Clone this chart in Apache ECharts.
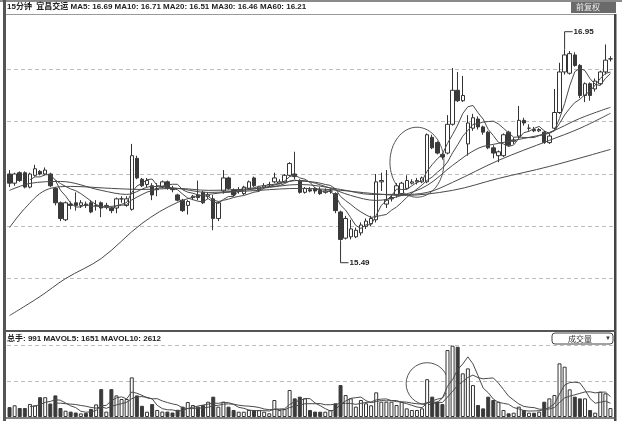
<!DOCTYPE html>
<html><head><meta charset="utf-8">
<style>html,body{margin:0;padding:0;background:#fff}#c{width:622px;height:421px}</style>
<script src="https://cdn.jsdelivr.net/npm/echarts@6.0.0/dist/echarts.min.js"></script>
</head><body><div id="c"></div>
<script>
// ---- data ----
const opens  = [16.00,15.93,16.01,16.01,15.90,15.99,16.02,16.00,16.00,15.89,15.78,15.65,15.77,15.78,15.76,15.77,15.78,15.76,15.78,15.75,
15.74,15.74,15.81,15.76,15.73,16.12,15.96,15.92,15.91,15.88,15.90,15.94,15.89,15.84,15.80,15.76,15.82,15.84,15.86,15.83,
15.81,15.66,15.87,15.97,15.88,15.87,15.85,15.89,15.97,15.88,15.90,15.92,15.94,15.93,15.94,15.99,16.00,15.95,15.86,15.88,
15.89,15.88,15.86,15.87,15.85,15.71,15.51,15.52,15.52,15.55,15.60,15.62,15.65,15.94,15.77,15.81,15.84,15.85,15.89,15.93,
15.94,15.94,15.94,16.28,16.24,16.15,16.16,16.38,16.64,16.56,16.23,16.35,16.42,16.36,16.32,16.20,16.14,16.14,16.32,16.25,
16.29,16.41,16.35,16.34,16.33,16.32,16.24,16.35,16.47,16.78,16.77,16.91,16.83,16.60,16.69,16.65,16.69,16.78,16.88];
const closes = [15.93,16.00,15.95,15.90,16.00,16.04,16.00,16.03,15.91,15.78,15.66,15.78,15.76,15.76,15.78,15.76,15.71,15.76,15.74,15.76,
15.72,15.81,15.81,15.81,16.14,15.97,15.91,15.95,15.84,15.89,15.94,15.89,15.88,15.80,15.72,15.79,15.83,15.82,15.78,15.84,
15.66,15.78,15.97,15.89,15.84,15.88,15.90,15.94,15.91,15.90,15.91,15.92,15.97,15.94,15.99,16.08,15.98,15.86,15.89,15.87,
15.87,15.85,15.87,15.87,15.72,15.50,15.66,15.58,15.57,15.61,15.64,15.66,15.94,15.95,15.80,15.82,15.91,15.93,15.95,15.94,
15.95,15.97,16.30,16.20,16.16,16.13,16.38,16.64,16.56,16.60,16.39,16.43,16.36,16.32,16.20,16.16,16.17,16.30,16.22,16.26,
16.41,16.39,16.35,16.33,16.34,16.24,16.29,16.47,16.78,16.91,16.92,16.83,16.60,16.69,16.60,16.71,16.78,16.87,16.88];
const lows   = [15.90,15.91,15.94,15.89,15.89,15.98,15.99,15.99,15.90,15.76,15.64,15.64,15.73,15.72,15.74,15.74,15.70,15.72,15.67,15.73,
15.70,15.70,15.78,15.75,15.72,15.96,15.90,15.90,15.80,15.83,15.89,15.88,15.86,15.79,15.71,15.69,15.80,15.80,15.77,15.81,
15.57,15.64,15.85,15.88,15.83,15.85,15.84,15.88,15.90,15.87,15.89,15.90,15.93,15.92,15.93,15.98,15.96,15.85,15.85,15.86,
15.85,15.84,15.85,15.85,15.70,15.49,15.50,15.50,15.51,15.53,15.58,15.60,15.63,15.87,15.74,15.79,15.82,15.84,15.88,15.92,
15.92,15.93,15.93,16.19,16.15,16.11,16.15,16.37,16.55,16.55,16.14,16.33,16.34,16.30,16.19,16.12,16.09,16.13,16.21,16.23,
16.27,16.37,16.33,16.32,16.32,16.23,16.23,16.34,16.46,16.76,16.76,16.82,16.58,16.55,16.56,16.63,16.68,16.76,16.86];
const highs  = [16.03,16.01,16.02,16.02,16.01,16.07,16.03,16.05,16.01,15.90,15.79,15.79,15.79,15.86,15.80,15.79,15.80,15.80,15.79,15.78,
15.75,15.82,15.83,15.83,16.23,16.14,15.97,15.97,15.93,15.93,15.95,15.95,15.91,15.85,15.81,15.80,15.84,15.95,15.87,15.86,
15.84,15.79,16.03,15.98,15.89,15.90,15.91,15.95,15.98,15.91,15.93,15.94,16.01,15.96,16.00,16.09,16.17,15.96,15.90,15.90,
15.90,15.90,15.89,15.89,15.86,15.72,15.68,15.65,15.59,15.63,15.66,15.68,16.00,16.01,16.03,15.84,15.93,15.94,15.99,15.96,
15.97,15.98,16.31,16.30,16.25,16.16,16.45,16.81,16.78,16.75,16.45,16.46,16.44,16.37,16.33,16.22,16.18,16.31,16.33,16.28,
16.52,16.43,16.38,16.36,16.35,16.33,16.31,16.65,16.85,16.95,16.94,16.93,16.84,16.70,16.70,16.73,16.79,16.99,16.90];
const volumes = [1100,1300,1000,1000,1450,1300,2200,2200,1500,2400,1000,700,600,500,400,450,900,1400,3100,600,
3100,2400,2000,2000,4400,2400,1250,590,1440,780,600,600,500,800,1150,1660,1330,1150,1330,1700,
2260,1150,1700,1150,780,590,590,780,780,780,590,410,1890,780,890,3000,2070,2260,2070,780,
600,590,590,780,1520,3550,2440,2070,1150,1890,1520,1300,2740,1700,1700,1700,1330,1700,960,780,
780,960,4200,2260,1700,1440,7440,7920,7810,4850,5400,3550,1330,960,2260,1890,1700,780,410,480,
1150,780,480,480,600,1700,2070,2440,5960,5590,3070,2260,2070,2070,780,480,2810,2630,991];
// slow moving averages at knots: [bar index, value]
const ma20Knots = [[0,15.875],[4,15.928],[10,15.943],[18,15.875],[23,15.844],[28,15.905],[33,15.89],[39,15.859],[49,15.89],[57,15.951],[62,15.905],[67,15.836],[72,15.798],[77,15.836],[82,15.913],[87,16.066],[92,16.196],[96,16.234],[101,16.272],[106,16.318],[112,16.425],[118,16.51]];
const ma30Knots = [[0,15.591],[3,15.737],[7,15.875],[12,15.905],[20,15.89],[26,15.882],[33,15.89],[39,15.875],[49,15.89],[57,15.92],[65,15.882],[71,15.844],[77,15.844],[82,15.859],[87,15.936],[96,16.104],[106,16.257],[112,16.349],[118,16.464]];
const ma60Knots = [[0,14.918],[6,15.064],[11,15.201],[18,15.354],[26,15.622],[33,15.783],[39,15.844],[49,15.875],[57,15.89],[65,15.875],[71,15.852],[77,15.836],[87,15.875],[96,15.966],[106,16.058],[118,16.188]];
const titleText = '15分钟  宜昌交运 MA5: 16.69 MA10: 16.71 MA20: 16.51 MA30: 16.46 MA60: 16.21';
const volTitleText = '总手: 991 MAVOL5: 1651 MAVOL10: 2612';
const lowMarkIdx = 65, highMarkIdx = 109;

// ---- derived ----
const N = opens.length;
const categories = Array.from({length: N}, (_, i) => String(i + 1));
function ma(arr, n) {
  return arr.map((_, i) => i < n - 1 ? null : +(arr.slice(i - n + 1, i + 1).reduce((a, b) => a + b, 0) / n).toFixed(3));
}
function fromKnots(k) { const a = new Array(N).fill(null); k.forEach(([i, v]) => { a[i] = v; }); return a; }

const DARK = '#3a3a3a', LINE = '#4a4a4a';
const chart = echarts.init(document.getElementById('c'), null, {renderer: 'canvas'});
const lineS = (data, xi, extra) => Object.assign({type: 'line', data, xAxisIndex: xi, yAxisIndex: xi, symbol: 'none', silent: true,
  lineStyle: {color: LINE, width: 1}, itemStyle: {color: LINE}, emphasis: {disabled: true}, z: 3}, extra || {});
const knotExtra = {connectNulls: true, smooth: 0.35};
const splitDash = {show: true, showMinLine: false, showMaxLine: false, lineStyle: {color: '#bdbdbd', type: [4, 3], width: 1}};

chart.setOption({
  animation: false,
  backgroundColor: '#fff',
  grid: [
    {left: 7, right: 9, top: 17, height: 314},
    {left: 7, right: 9, top: 336, height: 81}
  ],
  xAxis: [0, 1].map(g => ({type: 'category', gridIndex: g, data: categories, boundaryGap: true,
    axisLine: {show: false}, axisTick: {show: false}, axisLabel: {show: false}, splitLine: {show: false}})),
  yAxis: [
    {type: 'value', gridIndex: 0, min: 14.8, max: 17.2, interval: 0.4, axisLine: {show: false}, axisTick: {show: false}, axisLabel: {show: false}, splitLine: splitDash},
    {type: 'value', gridIndex: 1, min: 0, max: 9000, interval: 4000, axisLine: {show: false}, axisTick: {show: false}, axisLabel: {show: false}, splitLine: splitDash}
  ],
  series: [
    {type: 'candlestick', xAxisIndex: 0, yAxisIndex: 0, barWidth: '78%', silent: true,
      data: opens.map((o, i) => [o, closes[i], lows[i], highs[i]]),
      itemStyle: {color: '#ffffff', color0: DARK, borderColor: '#333', borderColor0: DARK, borderWidth: 1}, z: 2},
    lineS(ma(closes, 5), 0),
    lineS(ma(closes, 10), 0),
    lineS(fromKnots(ma20Knots), 0, knotExtra),
    lineS(fromKnots(ma30Knots), 0, knotExtra),
    lineS(fromKnots(ma60Knots), 0, knotExtra),
    {type: 'bar', xAxisIndex: 1, yAxisIndex: 1, barWidth: '78%', silent: true,
      data: volumes.map((v, i) => ({value: v, itemStyle: closes[i] >= opens[i]
        ? {color: '#ffffff', borderColor: '#333', borderWidth: 1}
        : {color: DARK, borderColor: DARK, borderWidth: 1}})), z: 2},
    lineS(ma(volumes, 5), 1),
    lineS(ma(volumes, 10), 1)
  ]
});

const px = (g, i, v) => chart.convertToPixel({xAxisIndex: g, yAxisIndex: g}, [i, v]);
const lo = px(0, lowMarkIdx, lows[lowMarkIdx]);
const hi = px(0, highMarkIdx, highs[highMarkIdx]);
const ell = px(0, 80, 16.09);
const volC = px(1, 82, 3700);
const font8 = 'bold 8px "Liberation Sans", Arial, "Noto Sans CJK SC", sans-serif';
const font8c = '8px "Noto Sans CJK SC", sans-serif';

chart.setOption({
  graphic: [
    // frame
    {type: 'rect', shape: {x: 0, y: 0, width: 622, height: 2}, style: {fill: '#8a8a8a'}, silent: true},
    {type: 'rect', shape: {x: 3, y: 0, width: 3, height: 421}, style: {fill: '#555'}, silent: true},
    {type: 'line', shape: {x1: 6, y1: 14.5, x2: 616, y2: 14.5}, style: {stroke: '#9a9a9a', lineWidth: 1}, silent: true},
    {type: 'rect', shape: {x: 614, y: 14, width: 2.5, height: 407}, style: {fill: '#444'}, silent: true},
    {type: 'rect', shape: {x: 6, y: 330, width: 610, height: 2}, style: {fill: '#555'}, silent: true},
    {type: 'line', shape: {x1: 6, y1: 418, x2: 616, y2: 418}, style: {stroke: '#555', lineWidth: 1.5}, silent: true},
    // titles
    {type: 'text', x: 7, y: 3, style: {text: titleText, font: font8, fill: '#222'}, silent: true},
    {type: 'text', x: 7, y: 335, style: {text: volTitleText, font: font8, fill: '#222'}, silent: true},
    // top-right box
    {type: 'rect', shape: {x: 571, y: 2, width: 45, height: 11}, style: {fill: '#6a6a6a'}, silent: true},
    {type: 'text', x: 576, y: 3, style: {text: '前复权', font: font8c, fill: '#eee'}, silent: true},
    // volume selector box
    {type: 'rect', shape: {x: 552, y: 333, width: 61, height: 11, r: 3}, style: {fill: '#fff', stroke: '#444', lineWidth: 1}, silent: true},
    {type: 'text', x: 568, y: 338.5, style: {text: '成交量', font: font8c, fill: '#333', verticalAlign: 'middle'}, silent: true},
    {type: 'text', x: 605, y: 338.5, style: {text: '▼', font: '6px sans-serif', fill: '#333', verticalAlign: 'middle'}, silent: true},
    // annotations
    {type: 'ellipse', shape: {cx: ell[0], cy: ell[1], rx: 27, ry: 35}, style: {fill: 'none', stroke: '#555', lineWidth: 1}, silent: true},
    {type: 'circle', shape: {cx: volC[0], cy: volC[1], r: 21}, style: {fill: 'none', stroke: '#555', lineWidth: 1}, silent: true},
    // low / high markers
    {type: 'polyline', shape: {points: [[lo[0], lo[1]], [lo[0], lo[1] + 22], [lo[0] + 8, lo[1] + 22]]}, style: {stroke: '#333', lineWidth: 1, fill: null}, silent: true},
    {type: 'text', x: lo[0] + 9, y: lo[1] + 22, style: {text: lows[lowMarkIdx].toFixed(2), font: font8, fill: '#222', verticalAlign: 'middle'}, silent: true},
    {type: 'polyline', shape: {points: [[hi[0], hi[1]], [hi[0], hi[1] - 18], [hi[0] + 8, hi[1] - 18]]}, style: {stroke: '#333', lineWidth: 1, fill: null}, silent: true},
    {type: 'text', x: hi[0] + 9, y: hi[1] - 18, style: {text: highs[highMarkIdx].toFixed(2), font: font8, fill: '#222', verticalAlign: 'middle'}, silent: true}
  ]
});
</script></body></html>
